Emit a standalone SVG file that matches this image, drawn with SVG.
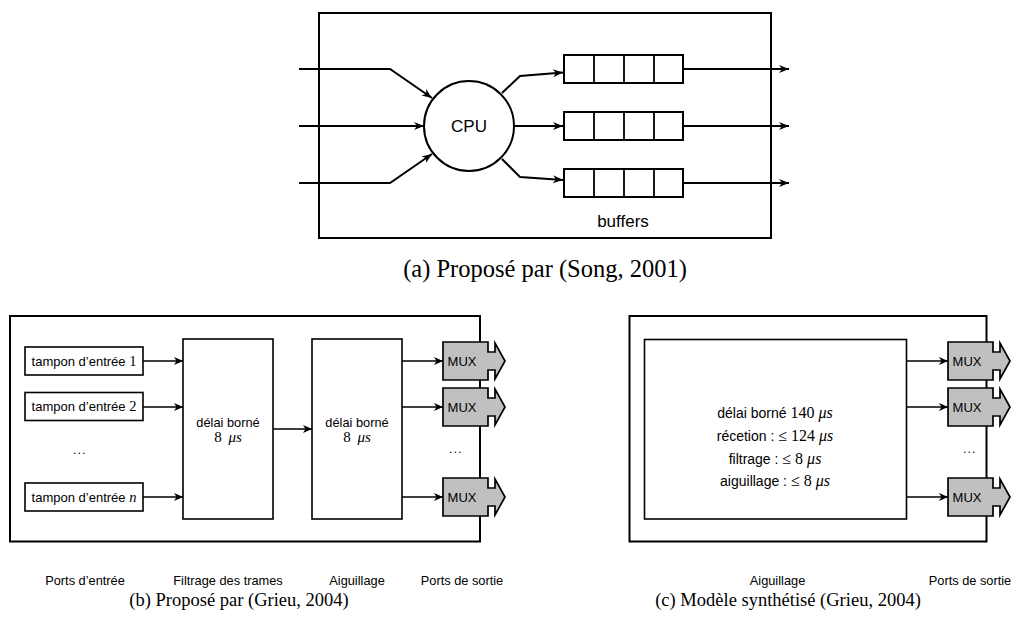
<svg xmlns="http://www.w3.org/2000/svg" width="1012" height="626" viewBox="0 0 1012 626">
<style>
.sf{font-family:"Liberation Sans",Arial,sans-serif;fill:#000}
.rm{font-family:"Liberation Serif","Times New Roman",serif;fill:#000}
.it{font-style:italic}
.box{fill:#fff;stroke:#000;stroke-width:1.6}
.boxa{fill:#fff;stroke:#000;stroke-width:2}
.frame{fill:none;stroke:#000;stroke-width:2}
.lna{fill:none;stroke:#000;stroke-width:1.8}
.arr{fill:none;stroke:#000;stroke-width:1.6;marker-end:url(#ah)}
.arra{fill:none;stroke:#000;stroke-width:2;marker-end:url(#ah2)}
.mux{fill:#c0c0c0;stroke:#000;stroke-width:1.7;stroke-linejoin:miter}
</style>
<defs>
<marker id="ah" markerUnits="userSpaceOnUse" markerWidth="12" markerHeight="10" viewBox="-10 -5 12 10" refX="0" refY="0" orient="auto">
<path d="M0,0 L-9,-4 L-6.5,0 L-9,4 Z" fill="#000"/>
</marker>
<marker id="ah2" markerUnits="userSpaceOnUse" markerWidth="14" markerHeight="10" viewBox="-12 -5 14 10" refX="0" refY="0" orient="auto">
<path d="M0,0 L-10,-4 L-7,0 L-10,4 Z" fill="#000"/>
</marker>
<path id="muxShape" d="M0,-19 H45 V-9 H52 V-18 L62,0 L52,18 V9 H45 V19 H0 Z"/>
</defs>

<!-- ===== Panel (a) ===== -->
<g id="a-frame"><rect class="frame" x="319" y="13" width="452" height="225"/></g>
<g id="cpu"><circle class="boxa" cx="469" cy="126" r="45"/><text class="sf" x="469" y="132" font-size="17" text-anchor="middle">CPU</text></g>
<g id="buffer1"><rect class="boxa" x="564" y="55" width="119" height="28"/><path class="lna" d="M594,55V83M624,55V83M654,55V83"/></g>
<g id="buffer2"><rect class="boxa" x="564" y="112" width="119" height="28"/><path class="lna" d="M594,112V140M624,112V140M654,112V140"/></g>
<g id="buffer3"><rect class="boxa" x="564" y="169" width="119" height="28"/><path class="lna" d="M594,169V197M624,169V197M654,169V197"/></g>
<g id="buffers-label"><text class="sf" x="623" y="227" font-size="17" text-anchor="middle">buffers</text></g>
<g id="a-connectors">
<path class="arra" d="M299,69 H390 L432,98"/>
<path class="arra" d="M299,126 H424"/>
<path class="arra" d="M299,183 H390 L432,154"/>
<path class="arra" d="M502,93 L520,76 L563,72.5"/>
<path class="arra" d="M514,126 H563"/>
<path class="arra" d="M502,159 L520,177 L563,180"/>
<path class="arra" d="M683,69 H789"/>
<path class="arra" d="M683,126 H789"/>
<path class="arra" d="M683,183 H789"/>
</g>
<g id="caption-a"><text class="rm" x="545" y="277" font-size="24.5" text-anchor="middle">(a) Proposé par (Song, 2001)</text></g>

<!-- ===== Panel (b) ===== -->
<g id="b-frame"><rect class="frame" x="10" y="316" width="470" height="225.5"/></g>
<g id="in1"><rect class="box" x="25" y="347" width="118" height="28"/><text class="sf" x="84" y="365.5" font-size="13" text-anchor="middle">tampon d’entrée <tspan class="rm" font-size="14.5">1</tspan></text></g>
<g id="in2"><rect class="box" x="25" y="392.5" width="118" height="28"/><text class="sf" x="84" y="411" font-size="13" text-anchor="middle">tampon d’entrée <tspan class="rm" font-size="14.5">2</tspan></text></g>
<g id="in-dots"><text class="rm" x="80" y="454" font-size="12" text-anchor="middle" letter-spacing="1.5">...</text></g>
<g id="inN"><rect class="box" x="25" y="483" width="118" height="28"/><text class="sf" x="84" y="501.5" font-size="13" text-anchor="middle">tampon d’entrée <tspan class="rm it" font-size="14.5">n</tspan></text></g>
<g id="filter"><rect class="box" x="183" y="339" width="90" height="180"/><text class="sf" x="228" y="427" font-size="12.8" text-anchor="middle">délai borné</text><text class="rm" x="228" y="442" font-size="15" text-anchor="middle">8 <tspan class="it" dx="3">μs</tspan></text></g>
<g id="switch"><rect class="box" x="312" y="339" width="90" height="180"/><text class="sf" x="357" y="427" font-size="12.8" text-anchor="middle">délai borné</text><text class="rm" x="357" y="442" font-size="15" text-anchor="middle">8 <tspan class="it" dx="3">μs</tspan></text></g>
<g id="b-connectors">
<path class="arr" d="M143,361 H183"/>
<path class="arr" d="M143,407 H183"/>
<path class="arr" d="M143,497 H183"/>
<path class="arr" d="M273,429 H312"/>
<path class="arr" d="M402,361 H443"/>
<path class="arr" d="M402,407 H443"/>
<path class="arr" d="M402,497 H443"/>
</g>
<g id="b-mux1"><use href="#muxShape" class="mux" x="443" y="361"/><text class="sf" x="462" y="366" font-size="13" text-anchor="middle">MUX</text></g>
<g id="b-mux2"><use href="#muxShape" class="mux" x="443" y="407"/><text class="sf" x="462" y="412" font-size="13" text-anchor="middle">MUX</text></g>
<g id="b-out-dots"><text class="rm" x="456" y="453" font-size="12" text-anchor="middle" letter-spacing="1.5">...</text></g>
<g id="b-mux3"><use href="#muxShape" class="mux" x="443" y="497"/><text class="sf" x="462" y="502" font-size="13" text-anchor="middle">MUX</text></g>
<g id="b-labels">
<text class="sf" x="85" y="585" font-size="12.8" text-anchor="middle">Ports d’entrée</text>
<text class="sf" x="228" y="585" font-size="12.8" text-anchor="middle">Filtrage des trames</text>
<text class="sf" x="357" y="585" font-size="12.8" text-anchor="middle">Aiguillage</text>
<text class="sf" x="462" y="585" font-size="12.8" text-anchor="middle">Ports de sortie</text>
</g>
<g id="caption-b"><text class="rm" x="239" y="606" font-size="18.5" text-anchor="middle">(b) Proposé par (Grieu, 2004)</text></g>

<!-- ===== Panel (c) ===== -->
<g id="c-frame"><rect class="frame" x="629.5" y="316" width="357" height="225.5"/></g>
<g id="c-block"><rect class="box" x="644.5" y="339.5" width="262" height="179.5"/>
<text class="sf" x="775" y="417.5" font-size="14" text-anchor="middle">délai borné <tspan class="rm" font-size="16">140 <tspan class="it">μs</tspan></tspan></text>
<text class="sf" x="775" y="441" font-size="14" text-anchor="middle">récetion : <tspan class="rm" font-size="16">≤ 124 <tspan class="it">μs</tspan></tspan></text>
<text class="sf" x="775" y="463.5" font-size="14" text-anchor="middle">filtrage : <tspan class="rm" font-size="16">≤ 8 <tspan class="it">μs</tspan></tspan></text>
<text class="sf" x="775" y="486" font-size="14" text-anchor="middle">aiguillage : <tspan class="rm" font-size="16">≤ 8 <tspan class="it">μs</tspan></tspan></text>
</g>
<g id="c-connectors">
<path class="arr" d="M907,361 H948"/>
<path class="arr" d="M907,407 H948"/>
<path class="arr" d="M907,497 H948"/>
</g>
<g id="c-mux1"><use href="#muxShape" class="mux" x="948" y="361"/><text class="sf" x="967" y="366" font-size="13" text-anchor="middle">MUX</text></g>
<g id="c-mux2"><use href="#muxShape" class="mux" x="948" y="407"/><text class="sf" x="967" y="412" font-size="13" text-anchor="middle">MUX</text></g>
<g id="c-out-dots"><text class="rm" x="970" y="453" font-size="12" text-anchor="middle" letter-spacing="1.5">...</text></g>
<g id="c-mux3"><use href="#muxShape" class="mux" x="948" y="497"/><text class="sf" x="967" y="502" font-size="13" text-anchor="middle">MUX</text></g>
<g id="c-labels">
<text class="sf" x="777.5" y="585" font-size="12.8" text-anchor="middle">Aiguillage</text>
<text class="sf" x="970" y="585" font-size="12.8" text-anchor="middle">Ports de sortie</text>
</g>
<g id="caption-c"><text class="rm" x="788" y="606" font-size="18.5" text-anchor="middle">(c) Modèle synthétisé (Grieu, 2004)</text></g>
</svg>
